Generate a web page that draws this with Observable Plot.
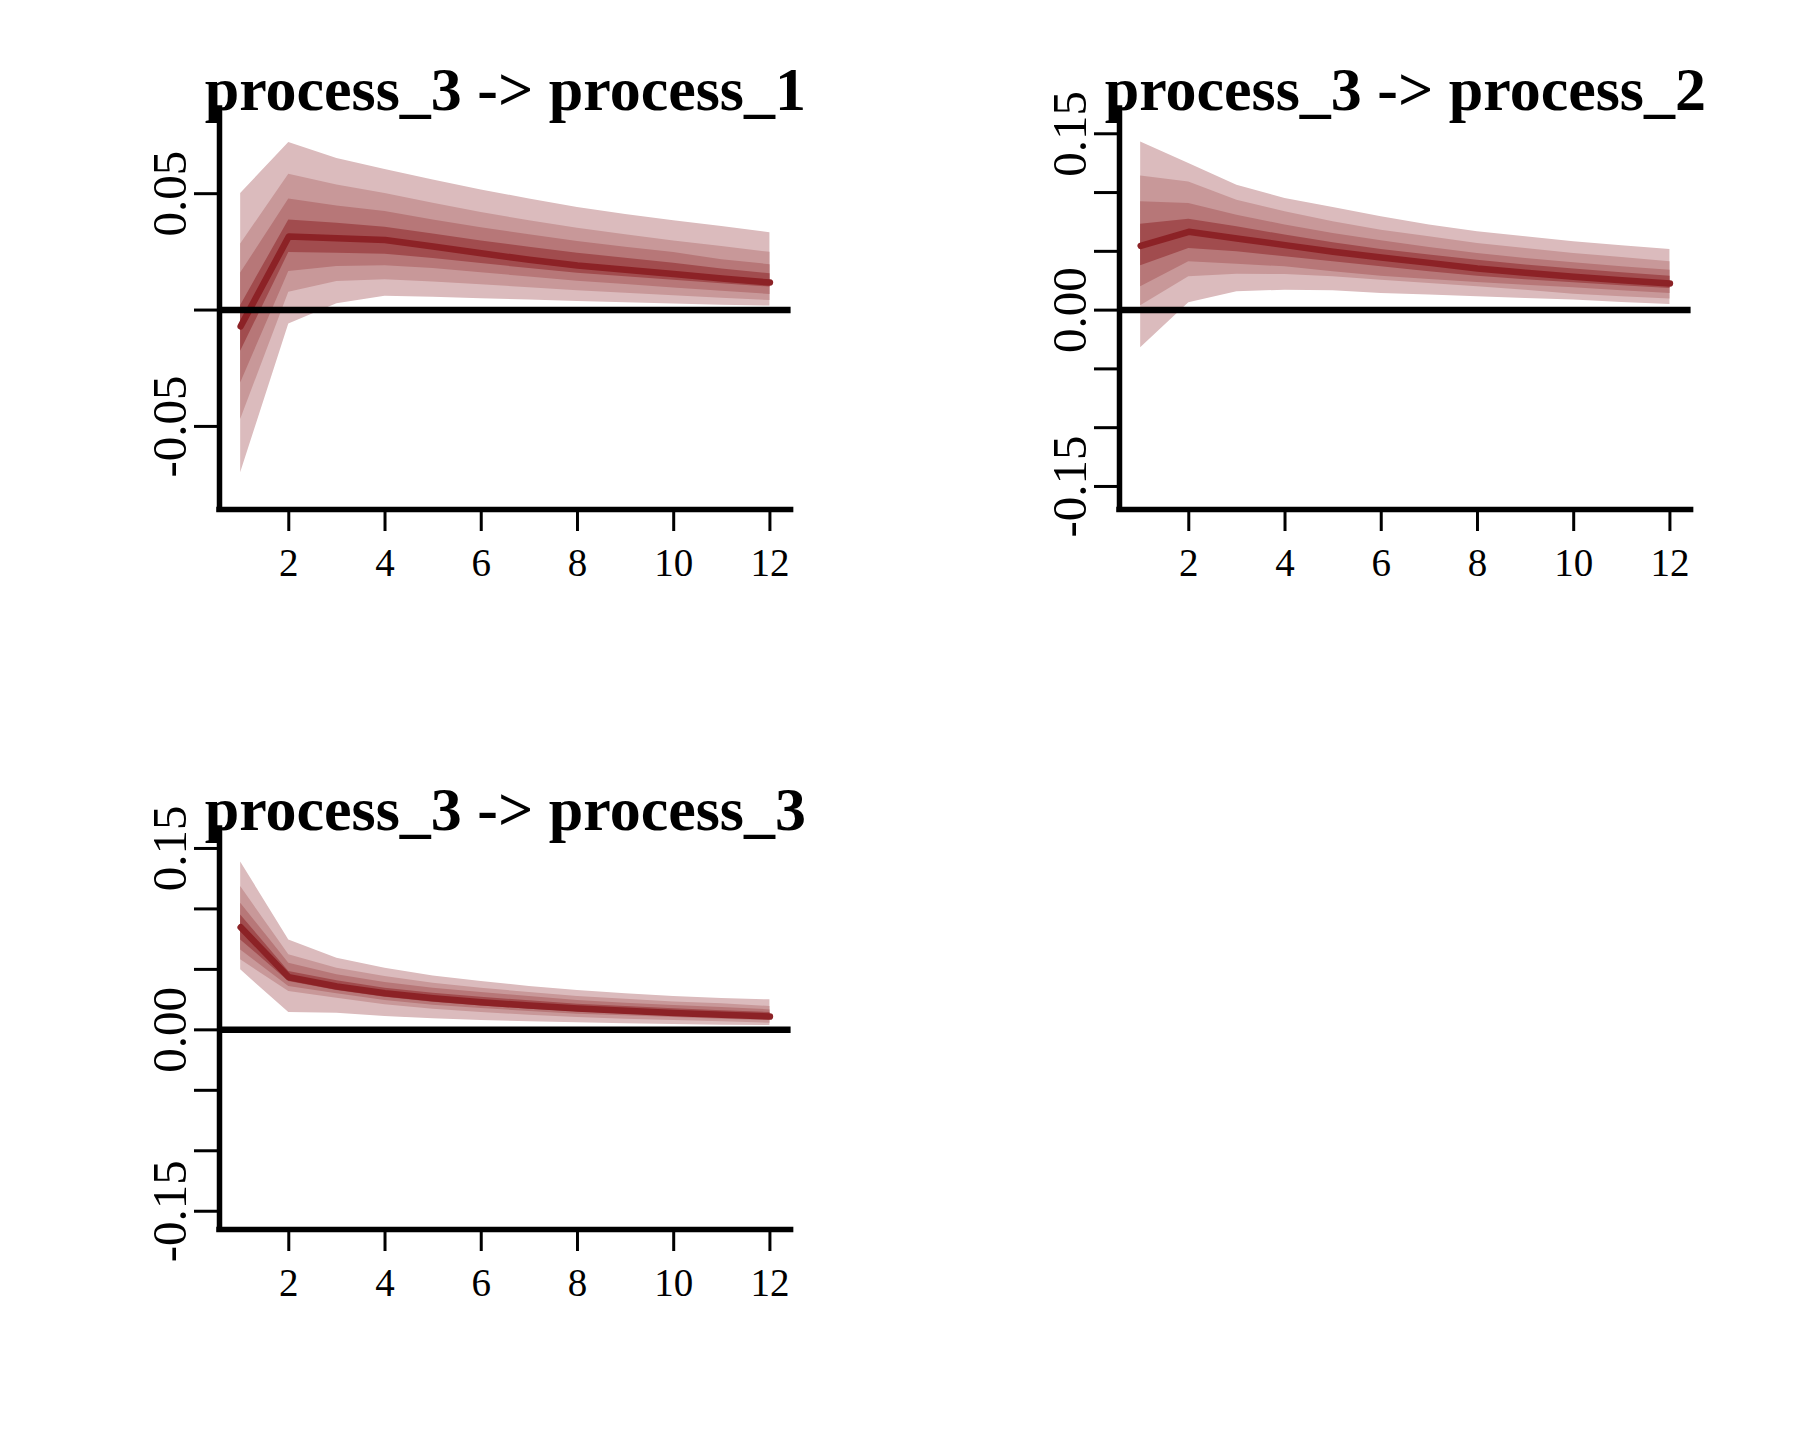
<!DOCTYPE html>
<html>
<head>
<meta charset="utf-8">
<script src="https://cdn.jsdelivr.net/npm/d3@7"></script>
<script src="https://cdn.jsdelivr.net/npm/@observablehq/plot@0.6"></script>
<style>
  body { margin: 0; background: #ffffff; }
  #chart { position: relative; width: 1800px; height: 1440px; background: #ffffff; }
  .panel { position: absolute; }
</style>
</head>
<body>
<div id="chart"></div>
<script>
// ---------- data ----------
const horizon = [1, 2, 3, 4, 5, 6, 7, 8, 9, 10, 11, 12];
const xTicks = [2, 4, 6, 8, 10, 12];

const titles = ["process_3 -> process_1", "process_3 -> process_2", "process_3 -> process_3"];

// panel 1: process_3 -> process_1
const p1_median = [-0.0070, 0.0316, 0.0309, 0.0301, 0.0273, 0.0244, 0.0216, 0.0191, 0.0173, 0.0155, 0.0136, 0.0118];
const p1_hi4 = [0.0020, 0.0387, 0.0373, 0.0356, 0.0327, 0.0297, 0.0270, 0.0244, 0.0223, 0.0201, 0.0176, 0.0156];
const p1_hi3 = [0.0159, 0.0477, 0.0447, 0.0423, 0.0387, 0.0354, 0.0323, 0.0294, 0.0270, 0.0247, 0.0216, 0.0195];
const p1_hi2 = [0.0284, 0.0584, 0.0537, 0.0501, 0.0459, 0.0419, 0.0384, 0.0351, 0.0323, 0.0297, 0.0273, 0.0248];
const p1_hi1 = [0.0501, 0.0720, 0.0651, 0.0604, 0.0559, 0.0516, 0.0477, 0.0441, 0.0411, 0.0384, 0.0359, 0.0332];
const p1_lo4 = [-0.0177, 0.0247, 0.0244, 0.0240, 0.0222, 0.0200, 0.0178, 0.0158, 0.0143, 0.0128, 0.0113, 0.0099];
const p1_lo3 = [-0.0313, 0.0166, 0.0187, 0.0190, 0.0178, 0.0160, 0.0142, 0.0124, 0.0110, 0.0095, 0.0081, 0.0067];
const p1_lo2 = [-0.0470, 0.0076, 0.0123, 0.0130, 0.0121, 0.0109, 0.0096, 0.0083, 0.0072, 0.0061, 0.0051, 0.0041];
const p1_lo1 = [-0.0699, -0.0060, 0.0027, 0.0059, 0.0055, 0.0049, 0.0043, 0.0037, 0.0031, 0.0026, 0.0021, 0.0017];

// panel 2: process_3 -> process_2
const p2_median = [0.0547, 0.0666, 0.0609, 0.0553, 0.0496, 0.0448, 0.0402, 0.0354, 0.0317, 0.0283, 0.0255, 0.0227];
const p2_hi4 = [0.0731, 0.0774, 0.0709, 0.0638, 0.0573, 0.0516, 0.0468, 0.0425, 0.0383, 0.0349, 0.0317, 0.0289];
const p2_hi3 = [0.0921, 0.0907, 0.0808, 0.0723, 0.0652, 0.0590, 0.0533, 0.0482, 0.0439, 0.0402, 0.0368, 0.0340];
const p2_hi2 = [0.1140, 0.1090, 0.0935, 0.0836, 0.0751, 0.0680, 0.0624, 0.0567, 0.0524, 0.0482, 0.0448, 0.0411];
const p2_hi1 = [0.1429, 0.1247, 0.1063, 0.0950, 0.0873, 0.0794, 0.0723, 0.0666, 0.0624, 0.0581, 0.0547, 0.0516];
const p2_lo4 = [0.0377, 0.0524, 0.0496, 0.0454, 0.0411, 0.0368, 0.0326, 0.0289, 0.0258, 0.0233, 0.0207, 0.0184];
const p2_lo3 = [0.0198, 0.0411, 0.0391, 0.0368, 0.0326, 0.0289, 0.0261, 0.0235, 0.0212, 0.0190, 0.0164, 0.0142];
const p2_lo2 = [0.0037, 0.0283, 0.0306, 0.0303, 0.0283, 0.0255, 0.0227, 0.0198, 0.0170, 0.0136, 0.0113, 0.0094];
const p2_lo1 = [-0.0320, 0.0062, 0.0156, 0.0170, 0.0164, 0.0142, 0.0128, 0.0113, 0.0099, 0.0085, 0.0065, 0.0048];

// panel 3: process_3 -> process_3
const p3_median = [0.0848, 0.0435, 0.0358, 0.0303, 0.0262, 0.0229, 0.0201, 0.0176, 0.0157, 0.0140, 0.0124, 0.0110];
const p3_hi4 = [0.0950, 0.0482, 0.0405, 0.0344, 0.0303, 0.0270, 0.0240, 0.0212, 0.0193, 0.0174, 0.0157, 0.0143];
const p3_hi3 = [0.1047, 0.0551, 0.0455, 0.0391, 0.0344, 0.0309, 0.0275, 0.0242, 0.0220, 0.0201, 0.0185, 0.0165];
const p3_hi2 = [0.1185, 0.0620, 0.0510, 0.0441, 0.0386, 0.0344, 0.0309, 0.0275, 0.0253, 0.0231, 0.0215, 0.0193];
const p3_hi1 = [0.1388, 0.0744, 0.0592, 0.0510, 0.0446, 0.0400, 0.0358, 0.0325, 0.0298, 0.0275, 0.0259, 0.0248];
const p3_lo4 = [0.0744, 0.0400, 0.0325, 0.0270, 0.0229, 0.0198, 0.0171, 0.0149, 0.0132, 0.0118, 0.0105, 0.0091];
const p3_lo3 = [0.0661, 0.0358, 0.0298, 0.0242, 0.0204, 0.0176, 0.0152, 0.0129, 0.0116, 0.0102, 0.0088, 0.0077];
const p3_lo2 = [0.0579, 0.0317, 0.0262, 0.0207, 0.0171, 0.0143, 0.0121, 0.0102, 0.0088, 0.0077, 0.0066, 0.0055];
const p3_lo1 = [0.0496, 0.0143, 0.0138, 0.0110, 0.0091, 0.0077, 0.0066, 0.0058, 0.0050, 0.0044, 0.0039, 0.0036];

// y ticks and labelled ticks
const p1_yTicks = [-0.05, 0, 0.05];
const p1_yLabels = [-0.05, 0.05];
const p23_yTicks = [-0.15, -0.10, -0.05, 0, 0.05, 0.10, 0.15];
const p23_yLabels = [-0.15, 0, 0.15];

// ---------- styling ----------
const bandColors = ["#DBBBBD", "#C89899", "#B77778", "#A14C4E"];
const lineColor = "#8C2226";
const xDomain = [0.56, 12.44];
const serif = "'Liberation Serif', 'Times New Roman', serif";

const panels = [
  {title: titles[0], left: 0, top: 0, yDomain: [-0.0857, 0.0866], yTicks: p1_yTicks, yLabels: p1_yLabels,
   median: p1_median, lo: [p1_lo1, p1_lo2, p1_lo3, p1_lo4], hi: [p1_hi1, p1_hi2, p1_hi3, p1_hi4]},
  {title: titles[1], left: 900, top: 0, yDomain: [-0.1696, 0.1715], yTicks: p23_yTicks, yLabels: p23_yLabels,
   median: p2_median, lo: [p2_lo1, p2_lo2, p2_lo3, p2_lo4], hi: [p2_hi1, p2_hi2, p2_hi3, p2_hi4]},
  {title: titles[2], left: 0, top: 720, yDomain: [-0.1651, 0.1665], yTicks: p23_yTicks, yLabels: p23_yLabels,
   median: p3_median, lo: [p3_lo1, p3_lo2, p3_lo3, p3_lo4], hi: [p3_hi1, p3_hi2, p3_hi3, p3_hi4]}
];

function makePanel(p) {
  const rows = horizon.map((h, i) => {
    const r = {h, med: p.median[i]};
    for (let k = 0; k < 4; k++) { r["lo" + k] = p.lo[k][i]; r["hi" + k] = p.hi[k][i]; }
    return r;
  });
  const labelSet = new Set(p.yLabels.map(v => v.toFixed(2)));
  return Plot.plot({
    width: 900,
    height: 720,
    marginLeft: 219,
    marginRight: 109.4,
    marginTop: 108,
    marginBottom: 211,
    x: {domain: xDomain},
    y: {domain: p.yDomain},
    style: {background: "transparent", fontFamily: serif, overflow: "visible", color: "black"},
    marks: [
      Plot.text([p.title], {frameAnchor: "top", text: d => d, dy: 1, lineAnchor: "bottom",
        fontSize: 62, fontWeight: "bold", fontFamily: serif, fill: "black"}),
      ...[0, 1, 2, 3].map(k => Plot.areaY(rows, {x: "h", y1: "lo" + k, y2: "hi" + k, fill: bandColors[k]})),
      Plot.line(rows, {x: "h", y: "med", stroke: lineColor, strokeWidth: 6.5,
        strokeLinecap: "round", strokeLinejoin: "round"}),
      Plot.ruleY([0], {stroke: "black", strokeWidth: 6.5}),
      Plot.ruleX([xDomain[0]], {stroke: "black", strokeWidth: 5.5, strokeLinecap: "square"}),
      Plot.ruleY([p.yDomain[0]], {stroke: "black", strokeWidth: 5.5, strokeLinecap: "square"}),
      Plot.axisY(p.yTicks, {anchor: "left", label: null, tickSize: 25, tickPadding: 9, tickRotate: -90,
        textAnchor: "middle", lineAnchor: "bottom", fontSize: 49, fontFamily: serif,
        stroke: "black", strokeWidth: 3, fill: "black",
        tickFormat: d => labelSet.has(d.toFixed(2)) ? d.toFixed(2) : ""}),
      Plot.axisX(xTicks, {anchor: "bottom", label: null, tickSize: 22, tickPadding: 17,
        fontSize: 39, fontFamily: serif, stroke: "black", strokeWidth: 3, fill: "black",
        tickFormat: d => String(d)})
    ]
  });
}

const chart = document.getElementById("chart");
for (const p of panels) {
  const div = document.createElement("div");
  div.className = "panel";
  div.style.left = p.left + "px";
  div.style.top = p.top + "px";
  div.appendChild(makePanel(p));
  chart.appendChild(div);
}
</script>
</body>
</html>
